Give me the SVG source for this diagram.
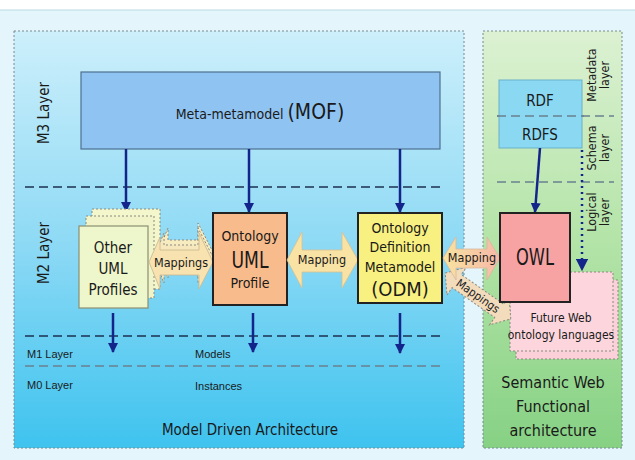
<svg xmlns="http://www.w3.org/2000/svg" width="635" height="460" viewBox="0 0 635 460">
<defs>
<linearGradient id="gBlue" x1="0" y1="0" x2="0" y2="1">
<stop offset="0" stop-color="#cdeffb"/>
<stop offset="0.5" stop-color="#8fdaf5"/>
<stop offset="1" stop-color="#3ec3ef"/>
</linearGradient>
<linearGradient id="gGreen" x1="0" y1="0" x2="0" y2="1">
<stop offset="0" stop-color="#dcf1d2"/>
<stop offset="0.5" stop-color="#b4e4a8"/>
<stop offset="1" stop-color="#86d184"/>
</linearGradient>
<linearGradient id="gMap2" x1="0" y1="0" x2="1" y2="0">
<stop offset="0" stop-color="#f8e4a0"/>
<stop offset="1" stop-color="#f6b8a8"/>
</linearGradient>
<marker id="ah" viewBox="0 0 10 10" refX="9" refY="5" markerWidth="4" markerHeight="4" orient="auto" markerUnits="strokeWidth">
<path d="M0,0 L10,5 L0,10 z" fill="#13248a"/>
</marker>
<marker id="ahd" viewBox="0 0 10 10" refX="9" refY="5" markerWidth="5" markerHeight="5" orient="auto" markerUnits="strokeWidth">
<path d="M0,0 L10,5 L0,10 z" fill="#13248a"/>
</marker>
</defs>
<style>
text{font-family:"DejaVu Sans","Verdana",sans-serif;font-stretch:condensed;fill:#1a1a1a}
.lib{font-family:"Liberation Sans",Arial,sans-serif;font-stretch:normal}
.panel{stroke:#7a8a90;stroke-width:1;stroke-dasharray:2,2}
.dash{stroke:#1c3050;stroke-width:1.6;stroke-dasharray:9,5;fill:none}
.dashg{stroke:#6a8090;stroke-width:1.3;stroke-dasharray:9,5;fill:none}
.conn{stroke:#13248a;stroke-width:2.5;fill:none;marker-end:url(#ah)}
.dot{stroke:#13248a;stroke-width:2.5;stroke-dasharray:2,4;fill:none;marker-end:url(#ahd)}
.box{stroke:#222;stroke-width:2}
.dotb{stroke:#8a8a80;stroke-width:1;stroke-dasharray:2,2}
.lbl{font-size:11px}
</style>
<rect x="0" y="0" width="635" height="460" fill="#ffffff"/>
<rect x="0" y="10" width="635" height="450" fill="#e4f6fb"/>
<line x1="0" y1="10" x2="635" y2="10" stroke="#b8d8e0" stroke-width="1"/>

<g id="mda-panel">
<rect class="panel" x="14" y="31" width="450" height="417" fill="url(#gBlue)"/>
<text x="44" y="113" font-size="15" text-anchor="middle" transform="rotate(-90 44 113)" dy="5">M3 Layer</text>
<text x="44" y="253" font-size="15" text-anchor="middle" transform="rotate(-90 44 253)" dy="5">M2 Layer</text>
<text class="lbl lib" x="27" y="358">M1 Layer</text>
<text class="lbl lib" x="27" y="389">M0 Layer</text>
<text class="lbl lib" x="195" y="358">Models</text>
<text class="lbl lib" x="195" y="390">Instances</text>
<text x="250" y="435" font-size="15" text-anchor="middle">Model Driven Architecture</text>
<line class="dash" x1="25" y1="187" x2="443" y2="187"/>
<line class="dash" x1="25" y1="336" x2="443" y2="336"/>
<line class="dashg" x1="25" y1="366" x2="443" y2="366"/>
</g>

<g id="sw-panel">
<rect class="panel" x="483" y="31" width="139" height="417" fill="url(#gGreen)"/>
<line class="dashg" x1="497" y1="116" x2="614" y2="116"/>
<line class="dashg" x1="497" y1="182" x2="614" y2="182" stroke="#8aa090"/>
<text font-size="12.5" text-anchor="middle" transform="translate(596 75) rotate(-90)">Metadata</text>
<text font-size="12.5" text-anchor="middle" transform="translate(609 75) rotate(-90)">layer</text>
<text font-size="12.5" text-anchor="middle" transform="translate(596 148) rotate(-90)">Schema</text>
<text font-size="12.5" text-anchor="middle" transform="translate(609 148) rotate(-90)">layer</text>
<text font-size="12.5" text-anchor="middle" transform="translate(596 212) rotate(-90)">Logical</text>
<text font-size="12.5" text-anchor="middle" transform="translate(609 212) rotate(-90)">layer</text>
<text x="553" y="388" font-size="16" text-anchor="middle">Semantic Web</text>
<text x="553" y="412" font-size="16" text-anchor="middle">Functional</text>
<text x="553" y="436" font-size="16" text-anchor="middle">architecture</text>
</g>

<g id="mof">
<rect x="81" y="72" width="359" height="77" fill="#8fc4f2" stroke="#4f7090" stroke-width="1.2"/>
<text x="260" y="119" text-anchor="middle"><tspan font-size="14">Meta-metamodel </tspan><tspan font-size="21">(MOF)</tspan></text>
</g>

<g id="rdf">
<rect x="499" y="80" width="83" height="68" fill="#8ad8f2" stroke="#6ab0c8" stroke-width="1"/>
<line class="dashg" x1="497" y1="116" x2="584" y2="116" stroke="#405060"/>
<text x="540" y="106" font-size="15" text-anchor="middle">RDF</text>
<text x="540" y="140" font-size="15" text-anchor="middle">RDFS</text>
</g>

<g id="connectors">
<line class="conn" x1="126" y1="149" x2="126" y2="211"/>
<line class="conn" x1="249" y1="149" x2="249" y2="212"/>
<line class="conn" x1="400" y1="149" x2="400" y2="212"/>
<line class="conn" x1="540" y1="148" x2="535" y2="212"/>
<line class="dot" x1="582" y1="150" x2="582" y2="270"/>
<line class="conn" x1="113" y1="313" x2="113" y2="352"/>
<line class="conn" x1="253" y1="313" x2="253" y2="352"/>
<line class="conn" x1="400" y1="313" x2="400" y2="353"/>
</g>

<g id="other-uml">
<rect class="dotb" x="92" y="209" width="68" height="80" fill="#f4f6cc"/>
<rect class="dotb" x="86" y="216" width="68" height="82" fill="#f0f4c8"/>
<rect x="79" y="226" width="69" height="82" fill="#eef6cc" stroke="#8a9070" stroke-width="1.2"/>
<text x="113" y="253" font-size="15" text-anchor="middle">Other</text>
<text x="113" y="274" font-size="15" text-anchor="middle">UML</text>
<text x="113" y="295" font-size="15" text-anchor="middle">Profiles</text>
</g>

<g id="mappings-other-uml">
<path class="dotb" d="M158,252 L168,228 L168,240 L198,240 L198,223 L213,252 L198,278 L198,266 L168,266 L168,278 z" fill="#f6ecc0"/>
<path class="dotb" d="M154,257 L164,233 L164,245 L198,245 L198,228 L213,257 L198,283 L198,271 L164,271 L164,283 z" fill="#f6e8bc"/>
<path d="M149,262 L160,237 L160,250 L199,250 L199,233 L213,262 L199,289 L199,275 L160,275 L160,289 z" fill="#f8e2b0" stroke="#c8b890" stroke-width="0.8"/>
<text x="181" y="267" font-size="12.5" text-anchor="middle">Mappings</text>
</g>

<g id="uml-profile">
<rect class="box" x="213" y="213" width="74" height="92" fill="#f8bc8c"/>
<text x="250" y="241" font-size="14" text-anchor="middle">Ontology</text>
<text x="250" y="268" font-size="23" text-anchor="middle" textLength="37" lengthAdjust="spacingAndGlyphs">UML</text>
<text x="250" y="288" font-size="14" text-anchor="middle">Profile</text>
</g>

<g id="mapping-uml-odm">
<path d="M287,260 L302,232 L302,250 L342,250 L342,232 L358,260 L342,288 L342,272 L302,272 L302,288 z" fill="#f8e2a4" stroke="#d8c090" stroke-width="0.8"/>
<text x="322" y="264" font-size="12.5" text-anchor="middle">Mapping</text>
</g>

<g id="odm">
<rect class="box" x="358" y="213" width="84" height="90" fill="#f8f080"/>
<text x="400" y="233" font-size="14" text-anchor="middle">Ontology</text>
<text x="400" y="252" font-size="14" text-anchor="middle">Definition</text>
<text x="400" y="272" font-size="14" text-anchor="middle">Metamodel</text>
<text x="400" y="296" font-size="20" text-anchor="middle">(ODM)</text>
</g>

<g id="future-web">
<rect class="dotb" x="516" y="280" width="102" height="79" fill="#fbd0d8"/>
<rect class="dotb" x="510" y="272" width="103" height="79" fill="#fcd6dc"/>
<text x="561" y="322" font-size="12" text-anchor="middle">Future Web</text>
<text x="561" y="339" font-size="12" text-anchor="middle">ontology languages</text>
</g>

<g id="mappings-odm-future">
<g transform="translate(478 296) rotate(35)">
<path class="dotb" d="M-40,0 L-26,-17 L-26,-8 L26,-8 L26,-17 L40,0 L26,17 L26,8 L-26,8 L-26,17 z" fill="#f2dcbc"/>
<text x="0" y="4" font-size="11.5" text-anchor="middle">Mappings</text>
</g>
</g>

<g id="mapping-odm-owl">
<path d="M443,258 L456,237 L456,249 L487,249 L487,237 L500,258 L487,280 L487,268 L456,268 L456,280 z" fill="url(#gMap2)" stroke="#d8b8a0" stroke-width="0.8"/>
<text x="472" y="262" font-size="12.5" text-anchor="middle">Mapping</text>
</g>

<g id="owl">
<rect class="box" x="500" y="213" width="70" height="89" fill="#f7a3a3" stroke-width="1.5"/>
<text x="535" y="265" font-size="23" text-anchor="middle" textLength="38" lengthAdjust="spacingAndGlyphs">OWL</text>
</g>
</svg>
